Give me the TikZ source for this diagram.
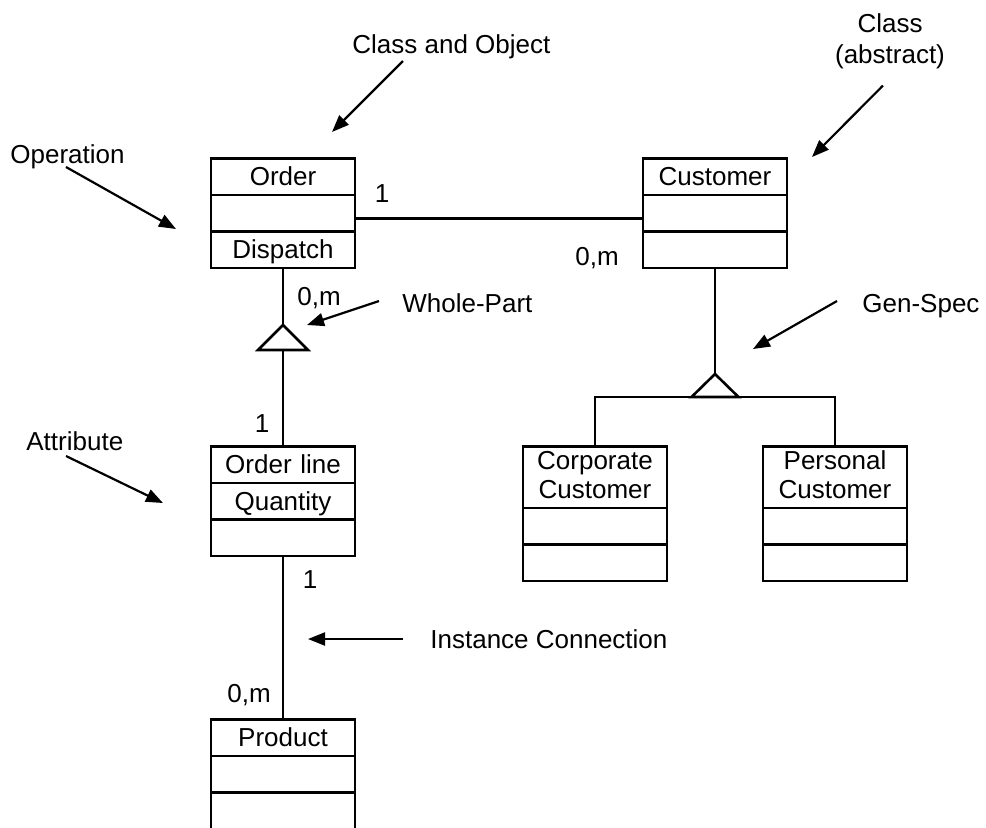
\documentclass[tikz,border=0pt]{standalone}
\usepackage{fontspec}
\setmainfont{Liberation Sans}
\usetikzlibrary{shapes.multipart, arrows.meta}

%% one compartment line of a class box
\newcommand{\cpt}{\rule[-4pt]{0pt}{17pt}}

\begin{document}
\begin{tikzpicture}[
  x=0.5pt, y=-0.5pt,
  font=\fontsize{13pt}{14.5pt}\selectfont,
  cls/.style={draw, rectangle split, rectangle split parts=3,
              text width=72pt, align=center, inner xsep=0pt, inner ysep=0pt,
              line width=1.3pt, anchor=north},
  link/.style={line width=1.3pt},
  genmark/.style={draw, line width=1.3pt, fill=white, line join=miter},
  lbl/.style={inner sep=0pt, anchor=base west},
  mult/.style={inner sep=0pt, anchor=base},
  arr/.style={-{Triangle[length=8.5pt, width=6.5pt]}, line width=1.1pt}
]
  \useasboundingbox (0,0) rectangle (986,827);

  %% classes
  \node[cls] (order) at (283,157) {\cpt Order\nodepart{two}\cpt\nodepart{three}\cpt Dispatch};
  \node[cls] (customer) at (715,157) {\cpt Customer\nodepart{two}\cpt\nodepart{three}\cpt};
  \node[cls] (orderline) at (283,445) {\cpt Order line\nodepart{two}\cpt Quantity\nodepart{three}\cpt};
  \node[cls] (product) at (283,718) {\cpt Product\nodepart{two}\cpt\nodepart{three}\cpt};
  \node[cls] (corporate) at (595,445) {%
    \rule{0pt}{11pt}Corporate\\Customer\rule[-4pt]{0pt}{4pt}%
    \nodepart{two}\cpt\nodepart{three}\cpt};
  \node[cls] (personal) at (835,445) {%
    \rule{0pt}{11pt}Personal\\Customer\rule[-4pt]{0pt}{4pt}%
    \nodepart{two}\cpt\nodepart{three}\cpt};

  %% whole-part and gen-spec markers
  \coordinate (wptop) at (283,325);
  \coordinate (wpbase) at (283,350);
  \coordinate (gstop) at (715,374);
  \coordinate (gsbase) at (715,397);

  %% connections
  \draw[link] ([yshift=-2.5pt]order.east) -- ([yshift=-2.5pt]customer.west);
  \draw[link] (order.south) -- (wptop);
  \draw[link] (wpbase) -- (orderline.north);
  \draw[link] (orderline.south) -- (product.north);
  \draw[link] (customer.south) -- (gstop);
  \draw[link] (corporate.north) |- (gsbase) -| (personal.north);

  \draw[genmark] (wptop) -- ([xshift=-12.5pt]wpbase) -- ([xshift=12.5pt]wpbase) -- cycle;
  \draw[genmark] (gstop) -- ([xshift=-11.75pt]gsbase) -- ([xshift=11.75pt]gsbase) -- cycle;

  %% multiplicities
  \node[mult] (m1) at (382,202) {1};
  \node[lbl] (m2) at (575,265) {0,m};
  \node[lbl] (m3) at (297,305) {0,m};
  \node[mult] (m4) at (262,432) {1};
  \node[mult] (m5) at (310,588) {1};
  \node[lbl] (m6) at (227,702) {0,m};

  %% notes with pointers
  \node[lbl] (clsobj) at (352,53) {Class and Object};
  \coordinate (clsobjtip) at (332,132);
  \draw[arr] ([shift={(51,8)}]clsobj.base west) -- (clsobjtip);

  \node[align=center, inner sep=0pt, anchor=north] (clsabs) at (890,13) {Class\\[1pt](abstract)};
  \coordinate (clsabstip) at (812,157);
  \draw[arr] ([shift={(-7,16.5)}]clsabs.south) -- (clsabstip);

  \node[lbl] (oper) at (10,163) {Operation};
  \coordinate (opertip) at (176,229);
  \draw[arr] ([shift={(56,4)}]oper.base west) -- (opertip);

  \node[lbl] (wholepart) at (402,312) {Whole-Part};
  \coordinate (wholeparttip) at (307,325);
  \draw[arr] ([shift={(-23,-11)}]wholepart.base west) -- (wholeparttip);

  \node[lbl] (genspec) at (862,312) {Gen-Spec};
  \coordinate (genspectip) at (753,349);
  \draw[arr] ([shift={(-25,-11)}]genspec.base west) -- (genspectip);

  \node[lbl] (attr) at (26,450) {Attribute};
  \coordinate (attrtip) at (163,503);
  \draw[arr] ([shift={(40,6)}]attr.base west) -- (attrtip);

  \node[lbl] (inst) at (430,648) {Instance Connection};
  \coordinate (insttip) at (308,639);
  \draw[arr] ([shift={(-27,-9)}]inst.base west) -- (insttip);
\end{tikzpicture}
\end{document}
